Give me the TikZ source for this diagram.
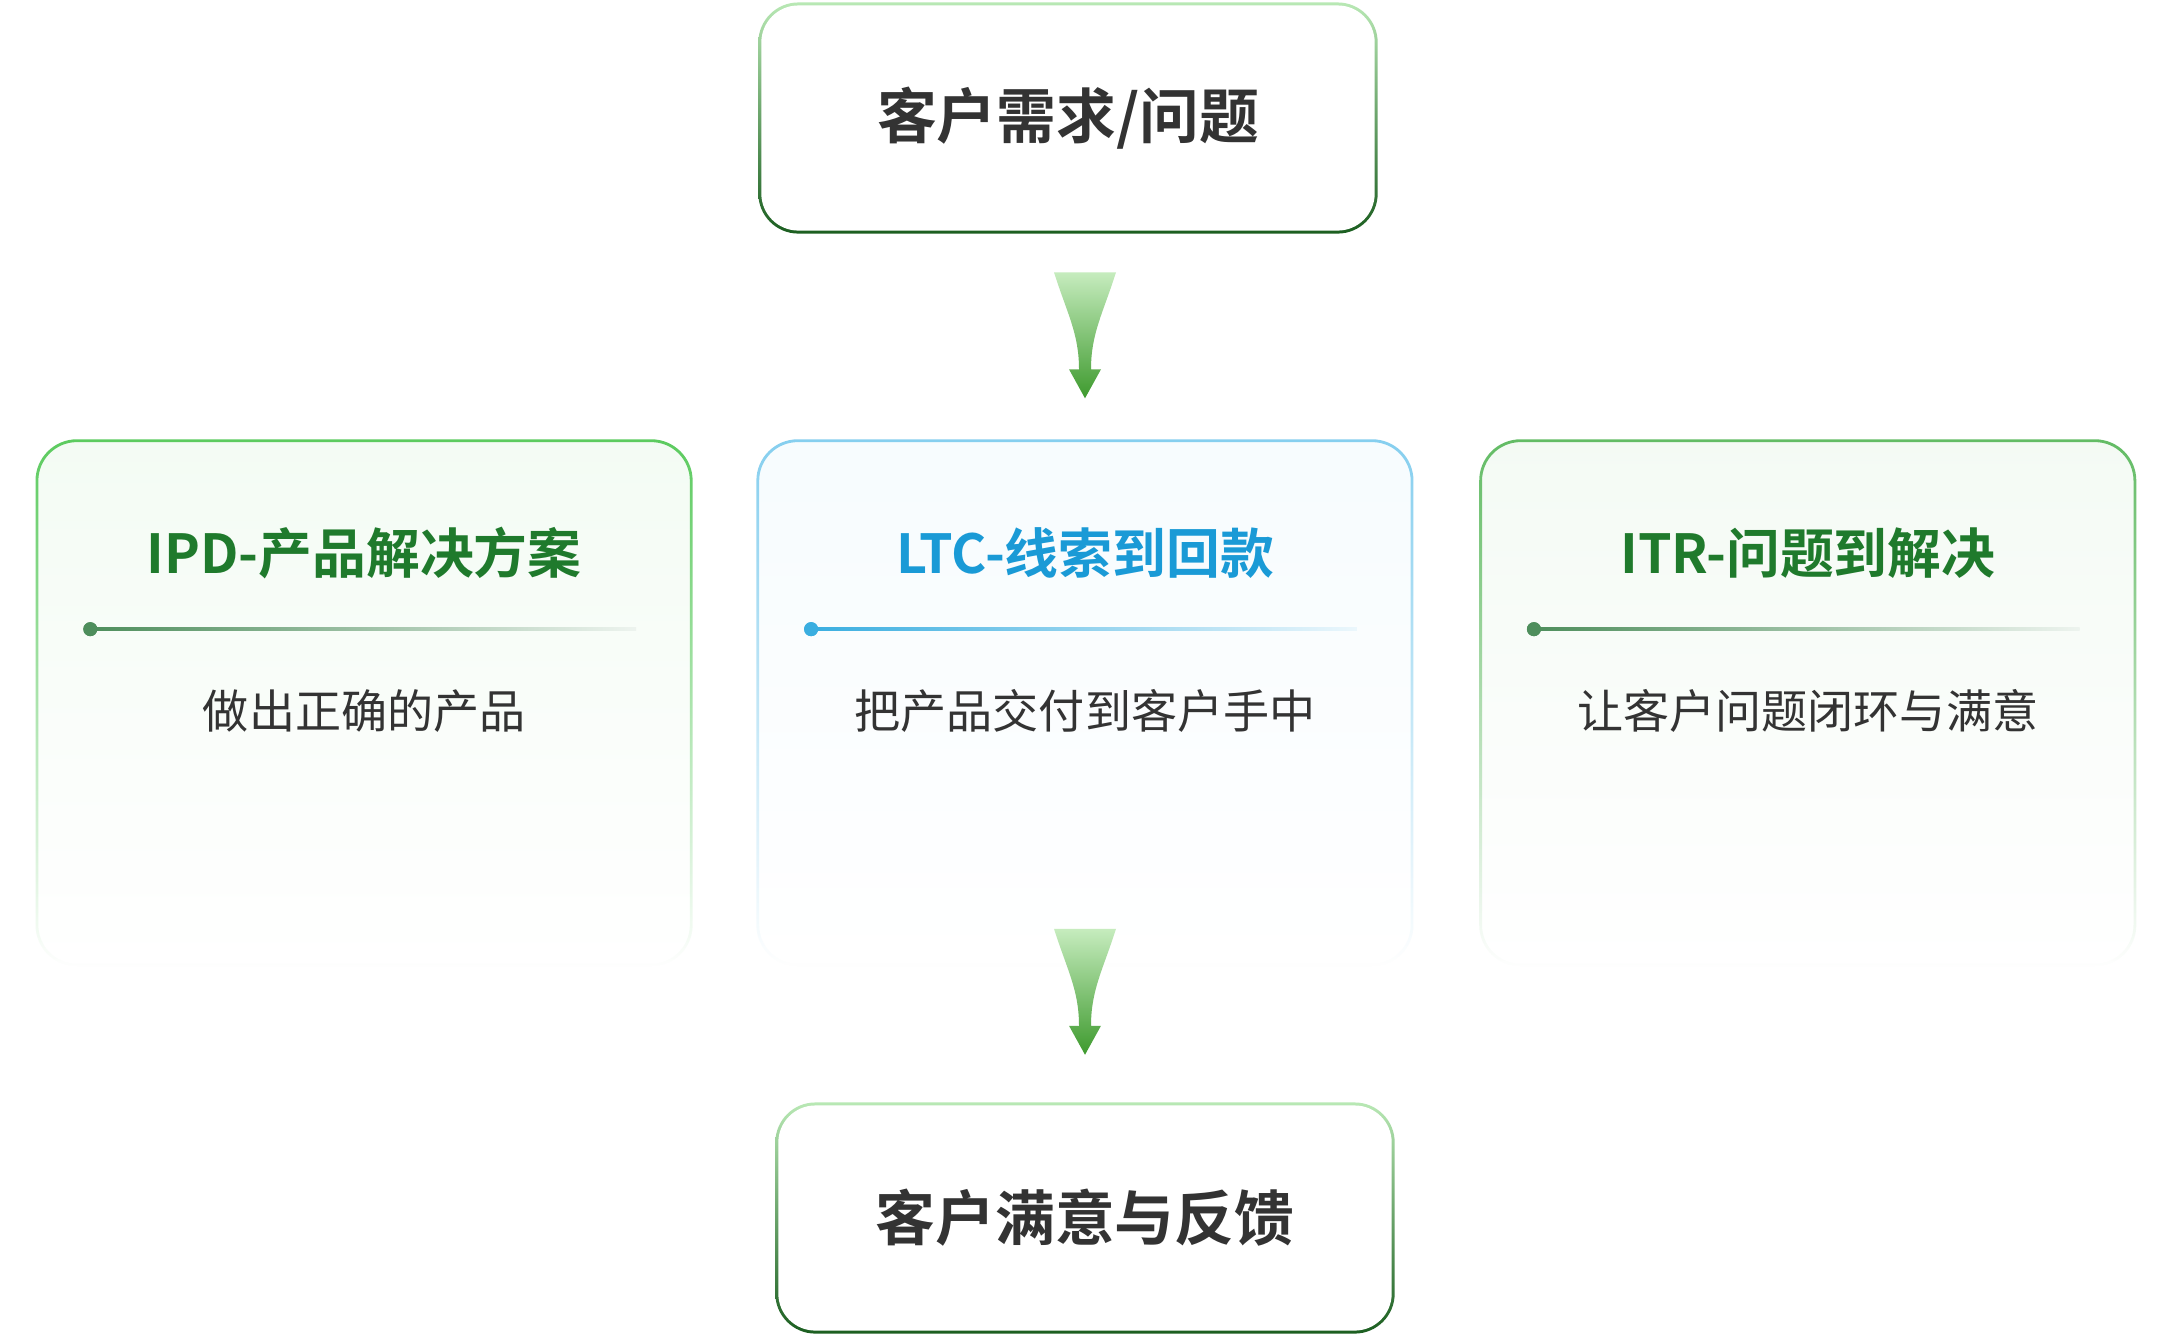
\documentclass[tikz,border=0pt]{standalone}
\usepackage{fontspec}
\setmainfont{Noto Sans CJK SC}[BoldFont=* Bold]
\usepackage{tikz}
\usetikzlibrary{calc,positioning,fadings}
\usepackage{xcolor}
\definecolor{boxlight}{HTML}{B8E8B4}
\definecolor{boxdark}{HTML}{1B5E20}
\definecolor{cardgreen}{HTML}{5CCB5F}
\definecolor{cardblue}{HTML}{86CFEF}
\definecolor{titlegreen}{HTML}{1F7A2C}
\definecolor{titleblue}{HTML}{1A9AD6}
\definecolor{rulegreen}{HTML}{4E8E5C}
\definecolor{ruleblue}{HTML}{3AAEE0}
\definecolor{arrowtop}{HTML}{C6ECBE}
\definecolor{arrowbot}{HTML}{3E9A2E}
\definecolor{textgray}{HTML}{333333}

\tikzfading[name=cardfade, top color=transparent!0,
  middle color=transparent!20, bottom color=transparent!100]

\begin{document}
\begin{tikzpicture}[
  x=0.01cm, y=0.01cm,
  endbox/.style={rounded corners=0.4cm, minimum width=6.19cm,
    minimum height=2.31cm, text=textgray,
    font=\fontsize{17}{20}\selectfont\bfseries,
    path picture={
      \shade[top color=boxlight, bottom color=boxdark]
        (path picture bounding box.south west) rectangle
        (path picture bounding box.north east);
      \fill[white, rounded corners=0.37cm]
        ([shift={(3,-3)}]path picture bounding box.north west) rectangle
        ([shift={(-3,3)}]path picture bounding box.south east);
    }},
  card/.style={rounded corners=0.4cm, minimum width=6.54cm,
    minimum height=5.24cm, top color=#1!7, bottom color=white,
    postaction={draw=#1, line width=0.8pt, path fading=cardfade}},
  cardtitle/.style={font=\fontsize{15.3}{18}\selectfont\bfseries},
  cardtext/.style={font=\fontsize{13.1}{15}\selectfont, text=textgray},
  ruledot/.style={circle, fill=#1, inner sep=0pt, minimum size=0.14cm},
  funnel/.pic={
    \shade[top color=arrowtop, bottom color=arrowbot]
      (-31,63) -- (31,63) .. controls (18,22) and (6,2) .. (6,-34)
      -- (16,-34) -- (0,-63) -- (-16,-34) -- (-6,-34)
      .. controls (-6,2) and (-18,22) .. (-31,63) -- cycle;
  }
]
\useasboundingbox[fill=white] (0,0) rectangle (2160,-1338);

% top and bottom
\node[endbox] (need) at (1068,-118) {客户需求/问题};
\node[endbox] (done) at (1085,-1218) {客户满意与反馈};

% three flows
\node[card=cardblue] (ltc) at (1085,-703) {};
\node[card=cardgreen,left=0.65cm of ltc] (ipd) {};
\node[card=cardgreen!80!gray,right=0.67cm of ltc] (itr) {};

\node[cardtitle,text=titlegreen] (ipdtitle) at ($(ipd.north)+(0,-113)$)
  {IPD-产品解决方案};
\node[cardtitle,text=titleblue] (ltctitle) at ($(ltc.north)+(0,-113)$)
  {LTC-线索到回款};
\node[cardtitle,text=titlegreen] (itrtitle) at ($(itr.north)+(0,-113)$)
  {ITR-问题到解决};

\node[ruledot=rulegreen] (ipddot) at ($(ipd.north west)+(54,-189)$) {};
\coordinate (ipdend) at ($(ipd.north east)+(-56,-189)$);
\node[ruledot=ruleblue] (ltcdot) at ($(ltc.north west)+(54,-189)$) {};
\coordinate (ltcend) at ($(ltc.north east)+(-56,-189)$);
\node[ruledot=rulegreen] (itrdot) at ($(itr.north west)+(54,-189)$) {};
\coordinate (itrend) at ($(itr.north east)+(-56,-189)$);
\shade[left color=rulegreen, right color=rulegreen!10]
  ($(ipddot)+(0,-1.5)$) rectangle ($(ipdend)+(0,1.5)$);
\shade[left color=ruleblue, right color=ruleblue!10]
  ($(ltcdot)+(0,-1.5)$) rectangle ($(ltcend)+(0,1.5)$);
\shade[left color=rulegreen, right color=rulegreen!10]
  ($(itrdot)+(0,-1.5)$) rectangle ($(itrend)+(0,1.5)$);
\node[ruledot=rulegreen] at (ipddot) {};
\node[ruledot=ruleblue] at (ltcdot) {};
\node[ruledot=rulegreen] at (itrdot) {};

\node[cardtext] (ipdtext) at ($(ipd.north)+(0,-271)$) {做出正确的产品};
\node[cardtext] (ltctext) at ($(ltc.north)+(0,-271)$) {把产品交付到客户手中};
\node[cardtext] (itrtext) at ($(itr.north)+(0,-271)$) {让客户问题闭环与满意};

% arrows
\pic at ($(need.south -| ltc.north)+(0,-101)$) {funnel};
\pic at ($(done.north)+(0,110)$) {funnel};
\end{tikzpicture}
\end{document}
